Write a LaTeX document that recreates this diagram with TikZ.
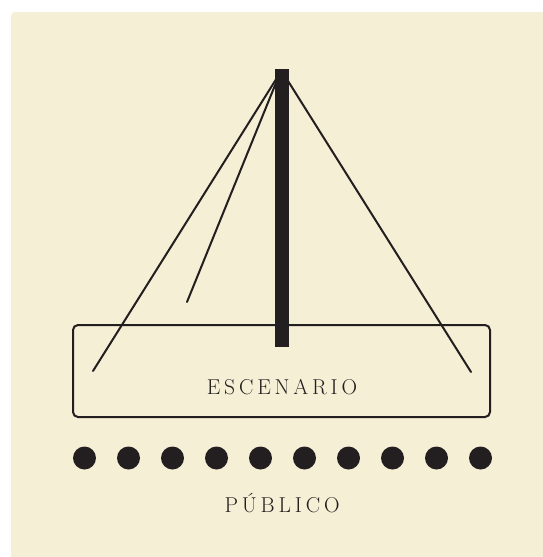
\documentclass[tikz,border=0pt]{standalone}
\usepackage{fontspec}
\setmainfont{Latin Modern Roman}
\newfontfamily\spacedfont[LetterSpace=18]{Latin Modern Roman}
\definecolor{bgcol}{HTML}{F5EFD5}
\definecolor{ink}{HTML}{231F20}
\begin{document}
\begin{tikzpicture}[x=1pt,y=-1pt,
  rope/.style={draw=ink,line width=2pt,line cap=round},
  label/.style={text=ink,font=\spacedfont\fontsize{21.5}{24}\selectfont,inner sep=0pt},
  dot/.style={circle,fill=ink,minimum size=23pt,inner sep=0pt}]
\useasboundingbox (0,0) rectangle (542,557);
\fill[bgcol,rounded corners=4pt] (11,12) rectangle (560,575);
\fill[bgcol] (11,30) rectangle (542,557);
\fill[bgcol] (30,12) rectangle (542,557);
% stage
\node[draw=ink,line width=2pt,rounded corners=5pt,minimum width=417pt,minimum height=92pt,inner sep=0pt] (stage) at (281.5,371) {};
\node[label] (esc) at (282,387) {ESCENARIO};
% ropes
\coordinate (apexL) at (280,73);
\coordinate (apexR) at (283,73);
\coordinate (endA) at (93,371);
\coordinate (endB) at (187,302);
\coordinate (endC) at (471,372);
\draw[rope] (apexL) -- (endA);
\draw[rope] (apexL) -- (endB);
\draw[rope] (apexR) -- (endC);
% mast
\node[fill=ink,minimum width=13.5pt,minimum height=278pt,inner sep=0pt,anchor=north] (mast) at (281.75,69) {};
% audience
\foreach \i in {0,...,9}{
  \node[dot] (d\i) at (84.5+44*\i,458) {};
}
\node[label] (pub) at (282,503) {PÚBLICO};
\end{tikzpicture}
\end{document}
